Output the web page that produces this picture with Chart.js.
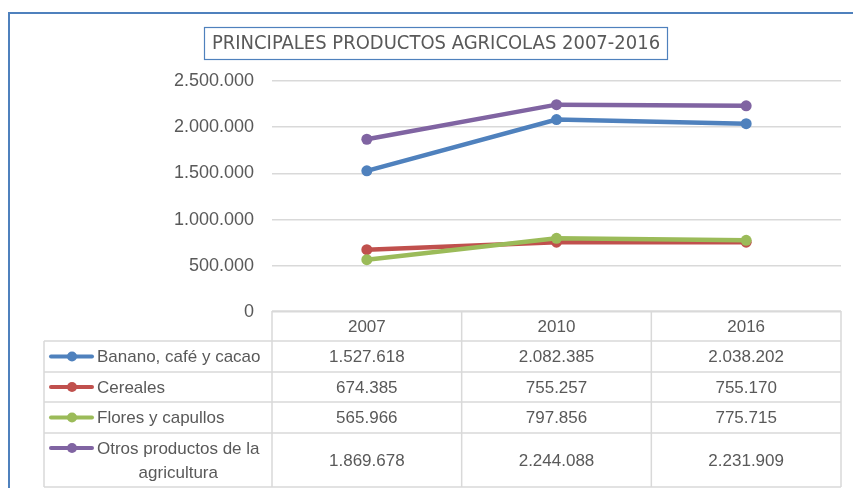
<!DOCTYPE html>
<html>
<head>
<meta charset="utf-8">
<script src="https://cdn.jsdelivr.net/npm/chart.js@4.4.1/dist/chart.umd.min.js"></script>
<style>
  html, body { margin: 0; padding: 0; background: #fff; }
  #wrap { position: relative; width: 853px; height: 488px; }
</style>
</head>
<body>
<div id="wrap"><canvas id="grafico" width="853" height="488"></canvas></div>
<script>
// Datos del gráfico
const anios = ["2007", "2010", "2016"];
const nombres = ["Banano, café y cacao", "Cereales", "Flores y capullos", "Otros productos de la agricultura"];
const banano = [1527618, 2082385, 2038202];
const cereales = [674385, 755257, 755170];
const flores = [565966, 797856, 775715];
const otros = [1869678, 2244088, 2231909];
const colores = ["#4F81BD", "#C0504D", "#9BBB59", "#8064A2"];
const titulo = "PRINCIPALES PRODUCTOS AGRICOLAS 2007-2016";

const gris = "#595959";
const lineaTabla = "#D9D9D9";
const fuente = "'Liberation Sans', Arial, sans-serif";

function fmt(v) {
  return String(Math.round(v)).replace(/\B(?=(\d{3})+(?!\d))/g, ".");
}

const series = [banano, cereales, flores, otros];

// Tabla de datos y título dibujados bajo el gráfico
const tablaPlugin = {
  id: "tabla",
  beforeDraw(chart) {
    const ctx = chart.ctx;
    ctx.save();
    ctx.fillStyle = "#fff";
    ctx.fillRect(0, 0, chart.width, chart.height);
    // borde exterior
    ctx.strokeStyle = "#4F81BD";
    ctx.lineWidth = 2;
    ctx.beginPath();
    ctx.moveTo(9, 488);
    ctx.lineTo(9, 13);
    ctx.lineTo(853, 13);
    ctx.stroke();
    // título
    ctx.lineWidth = 1.2;
    ctx.strokeRect(204.5, 27.5, 463, 32);
    ctx.fillStyle = gris;
    ctx.font = "20px 'Liberation Sans Narrow', 'DejaVu Sans Condensed', sans-serif";
    ctx.textAlign = "center";
    ctx.textBaseline = "middle";
    ctx.fillText(titulo, 436, 44);
    ctx.restore();
  },
  afterDraw(chart) {
    const ctx = chart.ctx;
    const x = chart.scales.x;
    const area = chart.chartArea;
    const izq = 44;
    const filas = [311, 341, 372, 402, 433, 487];
    const anchoCol = (area.right - area.left) / anios.length;
    ctx.save();
    ctx.strokeStyle = lineaTabla;
    ctx.lineWidth = 1.5;
    ctx.beginPath();
    // líneas horizontales
    ctx.moveTo(area.left, filas[0]);
    ctx.lineTo(area.right, filas[0]);
    for (let i = 1; i < filas.length; i++) {
      ctx.moveTo(izq, filas[i]);
      ctx.lineTo(area.right, filas[i]);
    }
    // líneas verticales
    ctx.moveTo(izq, filas[1]);
    ctx.lineTo(izq, filas[5]);
    for (let c = 0; c <= anios.length; c++) {
      const xx = area.left + c * anchoCol;
      ctx.moveTo(xx, filas[0]);
      ctx.lineTo(xx, filas[5]);
    }
    ctx.stroke();

    ctx.fillStyle = gris;
    ctx.font = "17px " + fuente;
    ctx.textBaseline = "middle";
    ctx.textAlign = "center";
    anios.forEach((a, i) => {
      ctx.fillText(a, x.getPixelForValue(i), (filas[0] + filas[1]) / 2 + 1);
    });
    series.forEach((s, r) => {
      const yc = (filas[r + 1] + filas[r + 2]) / 2 + 1;
      s.forEach((v, i) => {
        ctx.textAlign = "center";
        ctx.fillText(fmt(v), x.getPixelForValue(i), yc);
      });
      // clave de leyenda
      const ly = r === 3 ? 448 : yc - 1;
      ctx.strokeStyle = colores[r];
      ctx.lineWidth = 4;
      ctx.lineCap = "round";
      ctx.beginPath();
      ctx.moveTo(51, ly);
      ctx.lineTo(92, ly);
      ctx.stroke();
      ctx.fillStyle = colores[r];
      ctx.beginPath();
      ctx.arc(72, ly, 5, 0, Math.PI * 2);
      ctx.fill();
      ctx.fillStyle = gris;
      ctx.textAlign = "left";
      if (r === 3) {
        const l1 = "Otros productos de la";
        const w1 = ctx.measureText(l1).width;
        ctx.fillText(l1, 97, 449);
        ctx.textAlign = "center";
        ctx.fillText("agricultura", 97 + w1 / 2, 473);
      } else {
        ctx.fillText(nombres[r], 97, yc);
      }
    });
    ctx.restore();
  }
};

new Chart(document.getElementById("grafico"), {
  type: "line",
  data: {
    labels: anios,
    datasets: series.map((s, i) => ({
      label: nombres[i],
      data: s,
      borderColor: colores[i],
      backgroundColor: colores[i],
      borderWidth: 4.5,
      pointRadius: 5.5,
      pointBorderWidth: 0,
      pointBackgroundColor: colores[i],
      order: 4 - i,
      tension: 0,
    })),
  },
  options: {
    responsive: false,
    animation: false,
    layout: { padding: { top: 81, right: 12, bottom: 176, left: 0 } },
    plugins: { legend: { display: false }, tooltip: { enabled: false }, title: { display: false } },
    scales: {
      x: { display: false, offset: true },
      y: {
        min: 0,
        max: 2500000,
        afterFit(scale) { scale.width = 272; },
        border: { display: false },
        grid: { color: lineaTabla, lineWidth: 1.5, drawTicks: false },
        ticks: {
          stepSize: 500000,
          padding: 18,
          color: gris,
          font: { family: fuente, size: 18 },
          callback: (v) => fmt(v),
        },
      },
    },
  },
  plugins: [tablaPlugin],
});
</script>
</body>
</html>
